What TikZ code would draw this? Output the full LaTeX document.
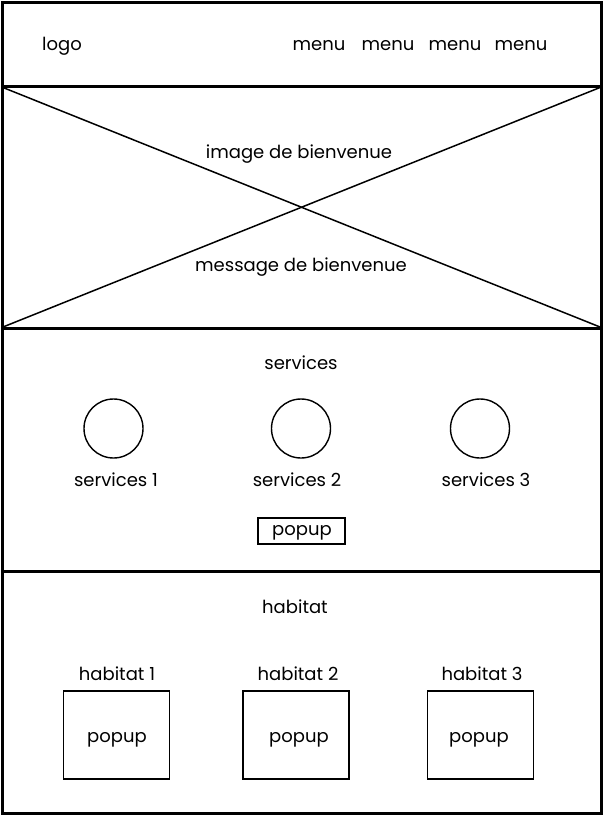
\documentclass[tikz,border=0pt]{standalone}
\usepackage{fontspec}
\setmainfont{Poppins}
\usetikzlibrary{positioning}

\begin{document}
\begin{tikzpicture}[x=1pt,y=-1pt,
  txt/.style={font=\fontsize{18}{21}\selectfont,inner sep=0pt,yshift=-1pt},
  rahmen/.style={line width=3pt},
  kreis/.style={circle,draw,line width=1.4pt,minimum size=59pt,inner sep=0pt},
  kasten/.style={draw,line width=1.4pt,minimum width=106pt,minimum height=88pt,inner sep=0pt},
  knopf/.style={draw,line width=1.4pt,minimum width=87pt,minimum height=26pt,inner sep=0pt}]
\useasboundingbox (0,0) rectangle (603,815);
%Seitenrahmen und Abschnitte
\draw[rahmen] (2,2) rectangle (601,813);
\foreach \yy in {86,328,571}{
\draw[rahmen] (2,\yy) -- (601,\yy);
}
%Bildplatzhalter
\draw[line width=1.5pt] (3,87.5) -- (600,327);
\draw[line width=1.5pt] (3,327) -- (600,87.5);
%Kopfzeile
\node[txt] (logo) at (62,45) {logo};
\foreach \xx [count=\i] in {319,388,455,521}{
\node[txt] (menu\i) at (\xx,45) {menu};
}
\node[txt] (bild) at (299,153) {image de bienvenue};
\node[txt] (nachricht) at (301,266) {message de bienvenue};
%Services
\node[txt] (services) at (301,362) {services};
\foreach \xx/\lx [count=\i] in {113.5/116,301/297,480/486}{
\node[kreis] (kreis\i) at (\xx,428.5) {};
\node[txt] (service\i) at (\lx,479) {services \i};
}
\node[knopf] (popup) at (301.5,531) {};
\node[txt] at (302,532) {popup};
%Habitat
\node[txt] (habitat) at (295,606) {habitat};
\foreach \xx/\lx/\px [count=\i] in {116.5/117/117,296/298/299,480.5/482/479}{
\node[kasten] (kasten\i) at (\xx,735) {};
\node[txt] (habitat\i) at (\lx,673) {habitat \i};
\node[txt] (inhalt\i) at (\px,738.5) {popup};
}
\end{tikzpicture}
\end{document}
